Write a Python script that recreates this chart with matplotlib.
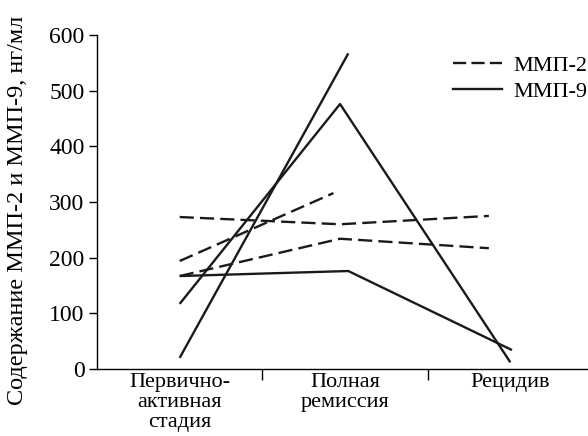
import numpy as np
import matplotlib
matplotlib.use("Agg")
from matplotlib import pyplot as plt

# stages on the x axis
stages = ["Первично-\nактивная\nстадия", "Полная\nремиссия", "Рецидив"]

# MMP-2 (dashed) series: x position in stage units, value in ng/ml
mmp2_x = [[0, 0.97, 1.87], [0, 0.93], [0, 0.97, 1.87]]
mmp2_y = [[273, 260, 275], [194, 316], [167, 234, 217]]

# MMP-9 (solid) series
mmp9_x = [[0, 1.02], [0, 0.97, 2.0], [0, 1.02, 2.01]]
mmp9_y = [[20, 567], [117, 476, 12], [167, 176, 34]]

plt.rcParams['font.family'] = ['Liberation Serif', 'DejaVu Serif']
plt.rcParams['font.size'] = 16

fig = plt.figure(figsize=(5.88, 4.36), dpi=100)
ax = fig.add_axes([97/588, 67/436, (593-97)/588, (401-67)/436])

lw = 1.7
col = '#1a1a1a'
for xs, ys in zip(mmp2_x, mmp2_y):
    l, = ax.plot(xs, ys, color=col, lw=lw, solid_capstyle='butt')
    l.set_dashes((6.0, 2.6))
for xs, ys in zip(mmp9_x, mmp9_y):
    ax.plot(xs, ys, color=col, lw=lw, solid_capstyle='butt')

# legend handles
h2, = ax.plot([], [], color=col, lw=lw, dashes=(5.6, 2.2))
h9, = ax.plot([], [], color=col, lw=lw)
fig.legend([h2, h9], ["ММП-2", "ММП-9"], loc='upper left',
           bbox_to_anchor=(453/588, 1 - 55/436), frameon=False,
           handlelength=2.2, handletextpad=0.5, labelspacing=0.25,
           borderaxespad=0, borderpad=0)

ax.set_xlim(-0.5, 2.5)
ax.set_ylim(0, 600)
ax.set_yticks(np.arange(0, 601, 100))
ax.set_xticks(range(len(stages)))
ax.set_xticklabels(stages, linespacing=1.05)
ax.set_xticks([0.5, 1.5], minor=True)
ax.tick_params(axis='x', which='major', length=0, pad=3)
ax.tick_params(axis='x', which='minor', length=8, width=1, direction='out')
ax.tick_params(axis='y', length=6, width=1, direction='out', pad=3, labelsize=17)

for s in ['top', 'right']:
    ax.spines[s].set_visible(False)
for s in ['left', 'bottom']:
    ax.spines[s].set_linewidth(1.0)

fig.text(18/588, 1 - 210/436, "Содержание ММП-2 и ММП-9, нг/мл",
         fontsize=17.5, rotation=90, ha='center', va='center')

fig.savefig("out.png", dpi=100)
